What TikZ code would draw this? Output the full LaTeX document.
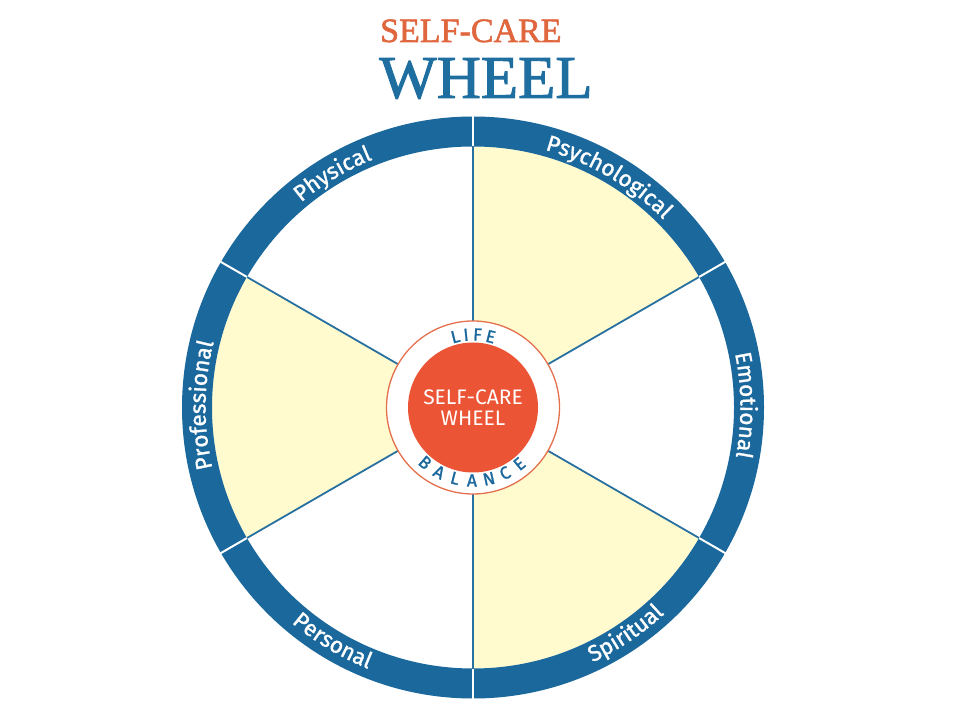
\documentclass[tikz,border=0pt]{standalone}
\usepackage{fontspec}
\usetikzlibrary{calc,decorations.text}
\newfontfamily\ringfont[FakeBold=1.3]{Fira Sans}
\newfontfamily\hubfont{Fira Sans}
\newfontfamily\titlefont[FakeBold=1.6]{Liberation Serif}
\definecolor{ringblue}{RGB}{27,104,156}
\definecolor{spokeblue}{RGB}{40,112,160}
\definecolor{titleblue}{RGB}{30,110,160}
\definecolor{titleorange}{RGB}{224,102,62}
\definecolor{paleyellow}{RGB}{255,251,206}
\definecolor{hubred}{RGB}{235,84,52}
\definecolor{huboutline}{RGB}{228,112,78}
\newcommand\cwlabel[2]{%
  \path[shift={(C)},decorate,decoration={text along path,text align=center,text color=white,
    text={|\ringfont\fontsize{22.5}{22.5}\selectfont|#2}}]
    (#1+40:267.5) arc[start angle=#1+40,end angle=#1-40,radius=267.5];}
\newcommand\ccwlabel[2]{%
  \path[shift={(C)},decorate,decoration={text along path,text align=center,text color=white,
    text={|\ringfont\fontsize{22.5}{22.5}\selectfont|#2}}]
    (#1-40:281.5) arc[start angle=#1-40,end angle=#1+40,radius=281.5];}
\begin{document}
\begin{tikzpicture}[x=1pt,y=1pt,
  smallcap/.style={inner sep=0,font=\ringfont\fontsize{17.5}{17.5}\selectfont,text=ringblue}]
\useasboundingbox (0,0) rectangle (960,720);
\fill[white] (0,0) rectangle (960,720);
\coordinate (C) at (473,312.5);
% title
\node[anchor=base west,inner sep=0,text=titleorange,font=\titlefont\fontsize{34}{34}\selectfont] (t1) at (380,678) {SELF-CARE};
\node[anchor=base west,inner sep=0,text=titleblue,font=\titlefont\fontsize{61}{61}\selectfont] (t2) at (379,622) {WHEEL};
% yellow sectors
\foreach \a in {30,150,270}{
  \fill[paleyellow] (C) -- ($(C)+(\a:261)$) arc[start angle=\a,end angle=\a+60,radius=261] -- cycle;
}
% outer ring
\fill[ringblue,even odd rule] (C) circle[radius=291] (C) circle[radius=261];
\foreach \a in {30,90,150,210,270,330}{
  \draw[white,line width=2] ($(C)+(\a:260.5)$) -- ($(C)+(\a:292)$);
  \draw[spokeblue,line width=1.8] ($(C)+(\a:86)$) -- ($(C)+(\a:261)$);
}
% hub
\node[circle,draw=huboutline,line width=1.3,fill=white,minimum size=173,inner sep=0] (hubring) at (C) {};
\node[circle,fill=hubred,minimum size=130,inner sep=0,text=white,align=center,
  font=\hubfont\fontsize{21}{20.5}\selectfont] (hub) at (C) {SELF-CARE\\WHEEL};
% LIFE
\foreach \ang/\ch [count=\i] in {104/L,95.5/I,86.5/F,76/E}{
  \node[smallcap,rotate=\ang-90,anchor=base] (life\i) at ($(C)+(\ang:67)$) {\ch};
}
% BALANCE
\foreach \ang/\ch [count=\i] in {-131/B,-117.6/A,-104.2/L,-90.8/A,-77.4/N,-64/C,-50.6/E}{
  \node[smallcap,rotate=\ang+90,anchor=base] (bal\i) at ($(C)+(\ang:79)$) {\ch};
}
% ring labels
\cwlabel{121}{Physical}
\cwlabel{59.5}{Psychological}
\cwlabel{0.5}{Emotional}
\cwlabel{179.5}{Professional}
\ccwlabel{-56}{Spiritual}
\ccwlabel{-121}{Personal}
\end{tikzpicture}
\end{document}
